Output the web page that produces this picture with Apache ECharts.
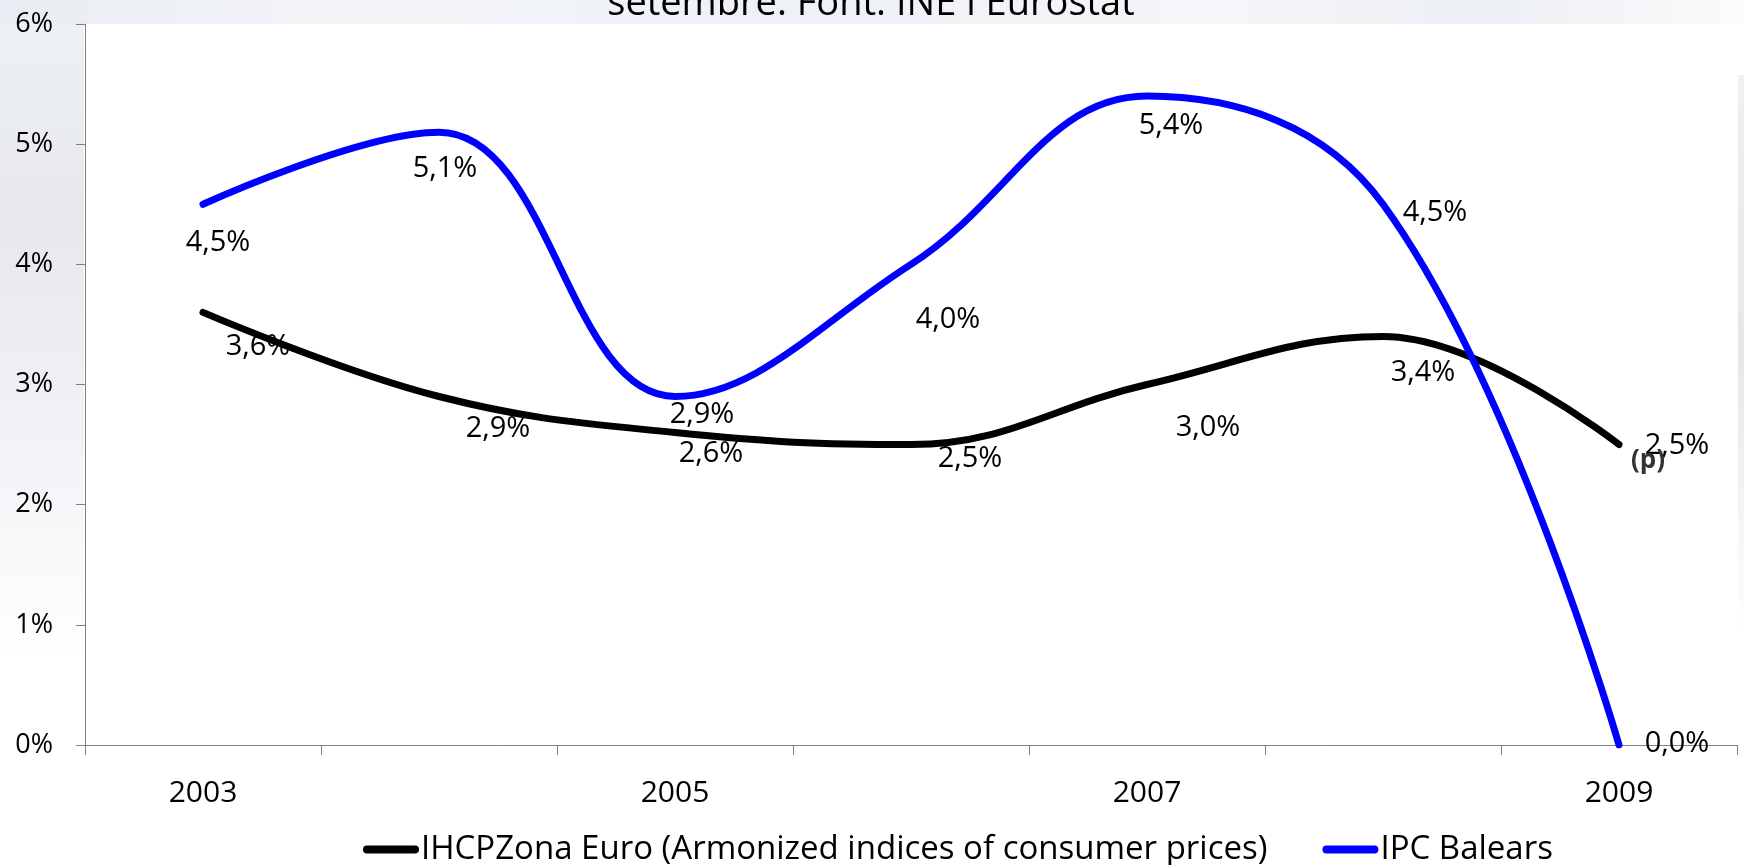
<!DOCTYPE html>
<html>
<head>
<meta charset="utf-8">
<script src="https://cdn.jsdelivr.net/npm/echarts@6/dist/echarts.min.js"></script>
<style>
html,body{margin:0;padding:0;background:#fff;}
#chart{width:1744px;height:865px;}
</style>
</head>
<body>
<div id="chart"></div>
<script>
// ---- data ----
const years = ['2003', '2004', '2005', '2006', '2007', '2008', '2009'];
const euroName = 'IHCPZona Euro (Armonized indices of consumer prices)';
const balearsName = 'IPC Balears';
const euroValues = [3.6, 2.9, 2.6, 2.5, 3.0, 3.4, 2.5];
const balearsValues = [4.5, 5.1, 2.9, 4.0, 5.4, 4.5, 0.0];
const yTicks = [0, 1, 2, 3, 4, 5, 6];
const titleText = 'setembre. Font: INE i Eurostat';
const provisionalNote = '(p)';

// ---- label layout (pixel offsets of each value label from its point) ----
const euroLabelOffsets = [[55, 34], [59, 32], [36, 21], [59, 14], [61, 43], [40, 36], [58, 1]];
const balearsLabelOffsets = [[15, 38], [6, 37], [27, 18], [37, 55], [24, 30], [52, 8], [58, -1]];

const fmt = v => v.toFixed(1).replace('.', ',') + '%';
const FONT = 'Open Sans';

function buildData(values, offsets) {
  return values.map((v, i) => ({
    value: v,
    label: { offset: offsets[i] }
  }));
}

const chart = echarts.init(document.getElementById('chart'), null, { renderer: 'canvas' });

const capsule = 'path://M4,0 H52 A4,4 0 0 1 52,8 H4 A4,4 0 0 1 4,0 Z';

const option = {
  backgroundColor: '#ffffff',
  animation: false,
  textStyle: { fontFamily: FONT },
  graphic: [
    {
      type: 'rect', z: -10, silent: true,
      shape: { x: 0, y: 0, width: 1744, height: 24 },
      style: {
        fill: new echarts.graphic.LinearGradient(0, 0, 1, 0, [
          { offset: 0, color: '#e9ecf2' },
          { offset: 0.2, color: '#f3f5f9' },
          { offset: 0.45, color: '#eef1f6' },
          { offset: 0.7, color: '#f5f6f9' },
          { offset: 0.85, color: '#eceff4' },
          { offset: 1, color: '#fbfbfc' }
        ])
      }
    },
    {
      type: 'rect', z: -10, silent: true,
      shape: { x: 0, y: 24, width: 84, height: 640 },
      style: {
        fill: new echarts.graphic.LinearGradient(0, 0, 0, 1, [
          { offset: 0, color: '#edf0f5' },
          { offset: 0.3, color: '#e6e8ee' },
          { offset: 0.6, color: '#eff1f5' },
          { offset: 1, color: '#ffffff' }
        ])
      }
    },
    {
      type: 'rect', z: -10, silent: true,
      shape: { x: 1738, y: 75, width: 6, height: 560 },
      style: {
        fill: new echarts.graphic.LinearGradient(0, 0, 0, 1, [
          { offset: 0, color: '#eef0f5' },
          { offset: 0.5, color: '#e7e6ec' },
          { offset: 1, color: '#ffffff' }
        ])
      }
    },
    {
      type: 'text', z: 10, silent: true,
      style: {
        x: 871, y: 23,
        text: titleText,
        fontFamily: FONT,
        fontSize: 38,
        fill: '#000',
        align: 'center',
        verticalAlign: 'bottom'
      }
    }
  ],
  legend: {
    left: 358,
    top: 828,
    itemWidth: 56,
    itemHeight: 9,
    itemGap: 55,
    icon: capsule,
    textStyle: { fontFamily: FONT, fontSize: 33, color: '#000', padding: [0, 0, 0, -3] },
    data: [
      { name: euroName, itemStyle: { color: '#000000' } },
      { name: balearsName, itemStyle: { color: '#0000ff' } }
    ]
  },
  grid: { left: 85, right: 7, top: 24, bottom: 120, containLabel: false },
  xAxis: {
    type: 'category',
    data: years,
    boundaryGap: true,
    axisLine: { lineStyle: { color: '#808080', width: 1 } },
    axisTick: { show: true, interval: 0, length: 10, lineStyle: { color: '#808080' } },
    axisLabel: { interval: 1, fontFamily: FONT, fontSize: 30, color: '#000', margin: 33 },
    splitLine: { show: false }
  },
  yAxis: {
    type: 'value',
    min: yTicks[0],
    max: yTicks[yTicks.length - 1],
    interval: 1,
    axisLine: { show: true, lineStyle: { color: '#808080', width: 1 } },
    axisTick: { show: true, length: 9, lineStyle: { color: '#808080' } },
    axisLabel: { fontFamily: FONT, fontSize: 27, color: '#000', margin: 32, formatter: '{value}%' },
    splitLine: { show: false }
  },
  series: [
    {
      name: euroName,
      type: 'line',
      smooth: 0.4,
      symbol: 'circle',
      symbolSize: 1,
      itemStyle: { color: '#000000' },
      lineStyle: { color: '#000000', width: 7, cap: 'round', join: 'round' },
      label: {
        show: true, position: 'inside',
        fontFamily: FONT, fontSize: 29, color: '#000',
        formatter: p => fmt(p.value)
      },
      data: buildData(euroValues, euroLabelOffsets),
      markPoint: {
        symbol: 'circle', symbolSize: 0,
        label: {
          show: true, position: 'inside', offset: [29, 16],
          fontFamily: FONT, fontSize: 26, fontWeight: 'bold', color: '#333',
          formatter: provisionalNote
        },
        data: [{ coord: [years[years.length - 1], euroValues[euroValues.length - 1]] }]
      },
      z: 3
    },
    {
      name: balearsName,
      type: 'line',
      smooth: 0.4,
      symbol: 'circle',
      symbolSize: 1,
      itemStyle: { color: '#0000ff' },
      lineStyle: { color: '#0000ff', width: 7, cap: 'round', join: 'round' },
      label: {
        show: true, position: 'inside',
        fontFamily: FONT, fontSize: 29, color: '#000',
        formatter: p => fmt(p.value)
      },
      data: buildData(balearsValues, balearsLabelOffsets),
      z: 4
    }
  ]
};

chart.setOption(option);
</script>
</body>
</html>
